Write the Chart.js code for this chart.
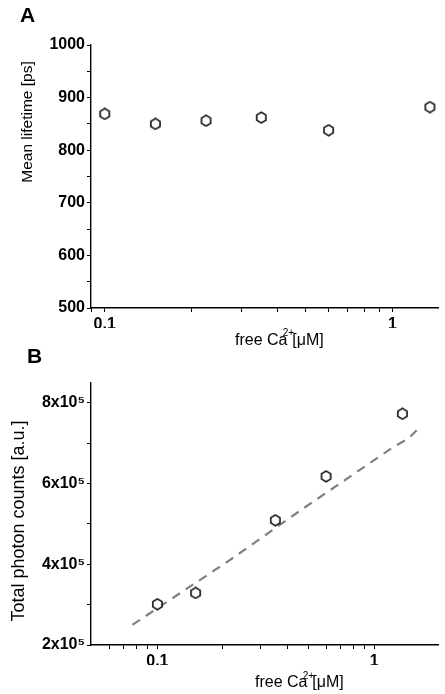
<!DOCTYPE html>
<html>
<head>
<meta charset="utf-8">
<script src="https://cdn.jsdelivr.net/npm/chart.js@4.4.1/dist/chart.umd.min.js"></script>
<style>
  html, body { margin: 0; padding: 0; background: #fff; }
  #wrap { position: relative; width: 445px; height: 694px; overflow: hidden; }
  .box { position: absolute; left: 0; width: 445px; }
</style>
</head>
<body>
<div id="wrap">
  <div class="box" style="top:0;height:360px"><canvas id="chartA"></canvas></div>
  <div class="box" style="top:340px;height:354px"><canvas id="chartB"></canvas></div>
</div>
<script>
// panel A: mean lifetime vs free Ca2+
const calcium = [0.1, 0.15, 0.225, 0.35, 0.6, 1.35];
const lifetime = [869, 850, 856, 862, 838, 882];
// panel B: total photon counts vs free Ca2+
const photonCa = [0.1, 0.15, 0.35, 0.6, 1.35];
const photons = [3.01e5, 3.29e5, 5.09e5, 6.18e5, 7.73e5];
// dashed fit line in panel B
const fitCa = [0.0767, 0.214, 0.467, 1.23, 1.44, 1.57];
const fitPhotons = [2.50e5, 4.09e5, 5.37e5, 6.91e5, 7.12e5, 7.32e5];
// tick positions
const caTicks = [0.06, 0.07, 0.08, 0.09, 0.1, 0.2, 0.3, 0.4, 0.5, 0.6, 0.7, 0.8, 0.9, 1];
const caLabels = { 0.1: '0,1', 1: '1' };
const lifetimeTicks = [500, 550, 600, 650, 700, 750, 800, 850, 900, 950, 1000];
const photonTicks = [2e5, 3e5, 4e5, 5e5, 6e5, 7e5, 8e5];

const FONT = '"Liberation Sans", Arial, sans-serif';
Chart.defaults.font.family = FONT;
Chart.defaults.color = '#000';

function hexagon(size) {
  const c = document.createElement('canvas');
  c.width = c.height = size;
  const g = c.getContext('2d');
  const r = size / 2 - 1.2;
  g.beginPath();
  for (let i = 0; i < 6; i++) {
    const a = Math.PI / 2 + i * Math.PI / 3;
    const px = size / 2 + r * Math.cos(a), py = size / 2 + r * Math.sin(a);
    if (i) g.lineTo(px, py); else g.moveTo(px, py);
  }
  g.closePath();
  g.fillStyle = '#fff';
  g.fill();
  g.lineWidth = 1.5;
  g.strokeStyle = '#000';
  g.stroke();
  return c;
}
const marker = hexagon(13);

// panel letter + axis titles
const labelsPlugin = {
  id: 'labels',
  afterDraw(chart, args, o) {
    const ctx = chart.ctx;
    ctx.save();
    ctx.fillStyle = '#000';
    ctx.textBaseline = 'alphabetic';
    ctx.font = 'bold 21px ' + FONT;
    ctx.fillText(o.letter, o.letterX, o.letterY);

    ctx.save();
    ctx.translate(o.yTitleX, o.yTitleY);
    ctx.rotate(-Math.PI / 2);
    ctx.textAlign = 'center';
    ctx.textBaseline = 'middle';
    ctx.font = o.yTitleSize + 'px ' + FONT;
    ctx.fillText(o.yTitle, 0, 0);
    ctx.restore();

    const s = o.xTitleSize;
    ctx.font = s + 'px ' + FONT;
    ctx.fillText('free Ca', o.xTitleX, o.xTitleY);
    const w = ctx.measureText('free Ca').width;
    ctx.font = Math.round(s * 0.62) + 'px ' + FONT;
    ctx.fillText('2+', o.xTitleX + w - s * 0.3, o.xTitleY - s * 0.52);
    ctx.font = s + 'px ' + FONT;
    ctx.fillText('[\u03bcM]', o.xTitleX + w + s * 0.3, o.xTitleY);
    ctx.restore();
  }
};

function caAxis(min, max, size) {
  return {
    type: 'logarithmic',
    min: min,
    max: max,
    afterBuildTicks: (s) => { s.ticks = caTicks.filter(v => v >= min && v <= max).map(v => ({ value: v })); },
    afterFit: (s) => { s.height = 20; },
    ticks: {
      autoSkip: false,
      maxRotation: 0,
      padding: 3,
      font: { size: size, weight: 'bold' },
      callback: (v) => caLabels[v] || ''
    },
    grid: { drawOnChartArea: false, drawTicks: true, tickLength: 4, tickColor: '#000', tickWidth: 1 },
    border: { display: true, color: '#000', width: 1.4 }
  };
}

function valueAxis(min, max, list, size, fmt) {
  return {
    type: 'linear',
    min: min,
    max: max,
    afterBuildTicks: (s) => { s.ticks = list.map(v => ({ value: v })); },
    afterFit: (s) => { s.width = 91; },
    ticks: {
      autoSkip: false,
      padding: 2,
      font: { size: size, weight: 'bold' },
      callback: fmt
    },
    grid: { drawOnChartArea: false, drawTicks: true, tickLength: 4, tickColor: '#000', tickWidth: 1 },
    border: { display: true, color: '#000', width: 1.4 }
  };
}

new Chart(document.getElementById('chartA'), {
  type: 'scatter',
  data: {
    datasets: [{
      data: calcium.map((x, i) => ({ x: x, y: lifetime[i] })),
      pointStyle: marker,
      pointRadius: 6
    }]
  },
  options: {
    responsive: true,
    maintainAspectRatio: false,
    animation: false,
    layout: { padding: { top: 45, right: 0, bottom: 32, left: 0 } },
    plugins: {
      legend: { display: false },
      tooltip: { enabled: false },
      labels: {
        letter: 'A', letterX: 20, letterY: 22,
        yTitle: 'Mean lifetime [ps]', yTitleX: 28, yTitleY: 122, yTitleSize: 15.5,
        xTitleX: 235, xTitleY: 344.7, xTitleSize: 16
      }
    },
    scales: {
      x: caAxis(0.0896, 1.44, 16),
      y: valueAxis(500, 1000, lifetimeTicks, 16, (v) => v % 100 === 0 ? String(v) : '')
    }
  },
  plugins: [labelsPlugin]
});

new Chart(document.getElementById('chartB'), {
  type: 'scatter',
  data: {
    datasets: [{
      data: photonCa.map((x, i) => ({ x: x, y: photons[i] })),
      pointStyle: marker,
      pointRadius: 6
    }, {
      type: 'line',
      data: fitCa.map((x, i) => ({ x: x, y: fitPhotons[i] })),
      showLine: true,
      borderColor: '#808080',
      borderWidth: 2.2,
      borderDash: [9, 7],
      pointRadius: 0,
      fill: false
    }]
  },
  options: {
    responsive: true,
    maintainAspectRatio: false,
    animation: false,
    layout: { padding: { top: 42.7, right: 0, bottom: 29, left: 0 } },
    plugins: {
      legend: { display: false },
      tooltip: { enabled: false },
      labels: {
        letter: 'B', letterX: 27, letterY: 23,
        yTitle: 'Total photon counts [a.u.]', yTitleX: 19, yTitleY: 181, yTitleSize: 18,
        xTitleX: 255, xTitleY: 347, xTitleSize: 16
      }
    },
    scales: {
      x: caAxis(0.0494, 1.97, 16),
      y: valueAxis(2e5, 8.5e5, photonTicks, 16, (v) => v % 2e5 === 0 ? (v / 1e5) + 'x10\u2075' : '')
    }
  },
  plugins: [labelsPlugin]
});
</script>
</body>
</html>
